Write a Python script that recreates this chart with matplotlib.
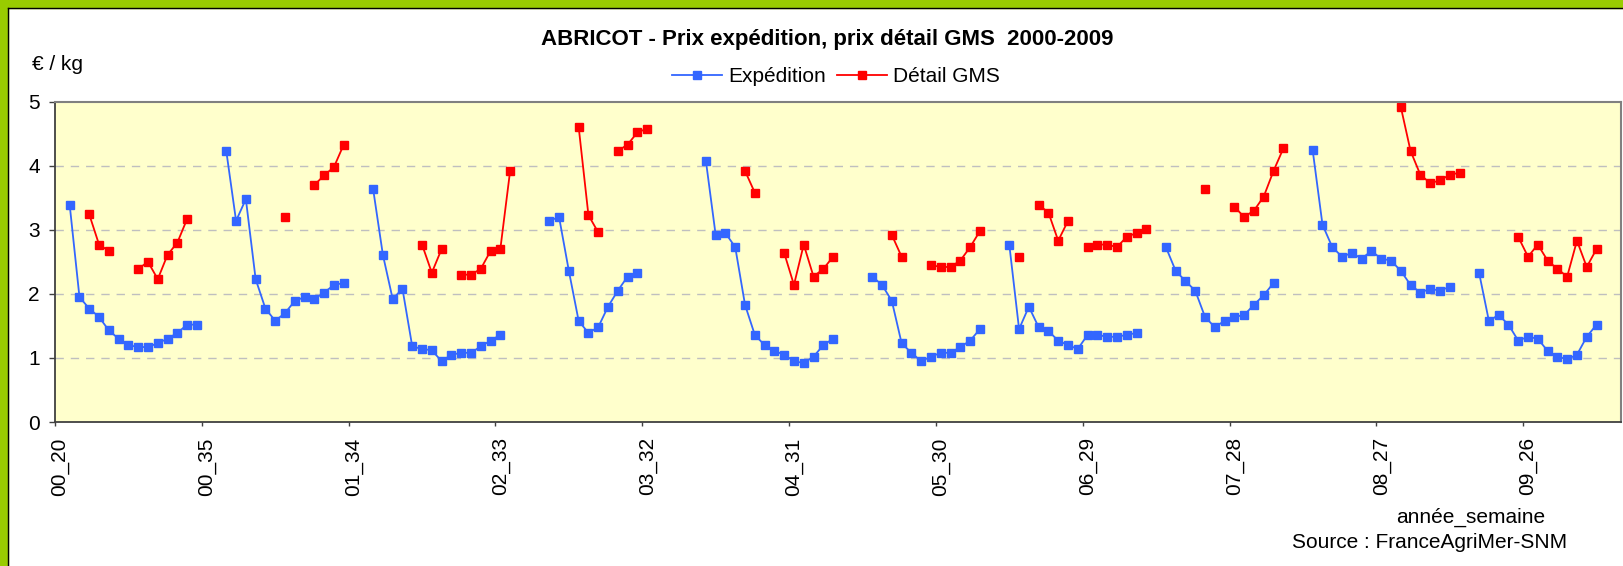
import numpy as np
import matplotlib
matplotlib.use("Agg")
import matplotlib.pyplot as plt
from matplotlib.patches import Rectangle
from matplotlib.lines import Line2D

plt.rcParams['font.family'] = ['Liberation Sans', 'DejaVu Sans']

nan = np.nan
years = ['00', '01', '02', '03', '04', '05', '06', '07', '08', '09']
weeks = list(range(20, 36))  # semaines 20 a 35 chaque annee

# prix expedition, une liste par annee (semaines 20..35)
expedition = [
    [nan, 3.39, 1.95, 1.77, 1.64, 1.43, 1.30, 1.20, 1.17, 1.17, 1.23, 1.30, 1.39, 1.52, 1.52, nan],
    [nan, 4.23, 3.14, 3.48, 2.23, 1.77, 1.58, 1.70, 1.89, 1.95, 1.92, 2.02, 2.14, 2.17, nan, nan],
    [3.64, 2.61, 1.92, 2.08, 1.18, 1.14, 1.12, 0.95, 1.05, 1.08, 1.08, 1.18, 1.27, 1.36, nan, nan],
    [nan, nan, 3.14, 3.20, 2.36, 1.58, 1.39, 1.48, 1.80, 2.05, 2.27, 2.33, nan, nan, nan, nan],
    [nan, nan, 4.08, 2.92, 2.95, 2.73, 1.83, 1.36, 1.20, 1.11, 1.05, 0.95, 0.92, 1.02, 1.20, 1.30],
    [nan, nan, nan, 2.27, 2.14, 1.89, 1.23, 1.08, 0.95, 1.02, 1.08, 1.08, 1.17, 1.27, 1.45, nan],
    [nan, 2.77, 1.45, 1.80, 1.48, 1.42, 1.27, 1.20, 1.14, 1.36, 1.36, 1.33, 1.33, 1.36, 1.39, nan],
    [nan, 2.73, 2.36, 2.20, 2.05, 1.64, 1.48, 1.58, 1.64, 1.67, 1.83, 1.98, 2.17, nan, nan, nan],
    [4.24, 3.08, 2.73, 2.58, 2.64, 2.55, 2.67, 2.55, 2.52, 2.36, 2.14, 2.02, 2.08, 2.05, 2.11, nan],
    [nan, 2.33, 1.58, 1.67, 1.52, 1.27, 1.33, 1.30, 1.11, 1.02, 0.98, 1.05, 1.33, 1.52, nan, nan],
]

# prix detail GMS
detail_gms = [
    [nan, nan, nan, 3.24, 2.77, 2.67, nan, nan, 2.39, 2.50, 2.23, 2.61, 2.80, 3.17, nan, nan],
    [nan, nan, nan, nan, nan, nan, nan, 3.20, nan, nan, 3.70, 3.85, 3.98, 4.33, nan, nan],
    [nan, nan, nan, nan, nan, 2.77, 2.33, 2.70, nan, 2.30, 2.30, 2.39, 2.67, 2.70, 3.92, nan],
    [nan, nan, nan, nan, nan, 4.61, 3.23, 2.96, nan, 4.23, 4.33, 4.52, 4.58, nan, nan, nan],
    [nan, nan, nan, nan, nan, nan, 3.92, 3.58, nan, nan, 2.64, 2.14, 2.77, 2.27, 2.39, 2.58],
    [nan, nan, nan, nan, nan, 2.92, 2.58, nan, nan, 2.45, 2.42, 2.42, 2.52, 2.73, 2.98, nan],
    [nan, nan, 2.58, nan, 3.39, 3.27, 2.83, 3.14, nan, 2.73, 2.77, 2.77, 2.73, 2.89, 2.95, 3.02],
    [nan, nan, nan, nan, nan, 3.64, nan, nan, 3.36, 3.20, 3.30, 3.52, 3.92, 4.27, nan, nan],
    [nan, nan, nan, nan, nan, nan, nan, nan, nan, 4.92, 4.23, 3.86, 3.73, 3.77, 3.86, 3.89],
    [nan, nan, nan, nan, nan, 2.89, 2.58, 2.77, 2.52, 2.39, 2.27, 2.83, 2.42, 2.70, nan, nan],
]

labels = [f'{y}_{w}' for y in years for w in weeks]
exp_all = np.concatenate(expedition)
det_all = np.concatenate(detail_gms)
x = np.arange(len(labels))

W, H = 1624, 566
fig = plt.figure(figsize=(W / 100, H / 100), dpi=100)
fig.patch.set_facecolor('white')

# cadre vert style Excel
fig.patches.append(Rectangle((0, 0), 7.5 / W, 1, transform=fig.transFigure, color='#99CC00', zorder=0))
fig.patches.append(Rectangle((0, 1 - 7.5 / H), 1, 7.5 / H, transform=fig.transFigure, color='#99CC00', zorder=0))
fig.lines.append(Line2D([8.3 / W, 8.3 / W], [0, 1 - 7.5 / H], transform=fig.transFigure, color='black', lw=1))
fig.lines.append(Line2D([8.3 / W, 1], [1 - 8.3 / H, 1 - 8.3 / H], transform=fig.transFigure, color='black', lw=1))

ax = fig.add_axes([55 / W, (H - 422) / H, 1566 / W, 320.3 / H])
ax.set_facecolor('#FFFFCC')

ax.plot(x, exp_all, color='#3366FF', lw=1.3, marker='s', markersize=5.5, label='Expédition')
ax.plot(x, det_all, color='#FF0000', lw=1.3, marker='s', markersize=5.5, label='Détail GMS')

ax.set_xlim(-0.5, len(labels) - 0.5)
ax.set_ylim(0, 5)
ax.set_yticks(range(0, 6))
ax.tick_params(axis='y', labelsize=15, length=4, width=1, pad=7, color='#404040')

# traits aux limites de categories, etiquettes au centre
ax.set_xticks(np.arange(0, len(labels), 15) - 0.5)
ax.set_xticklabels([])
ax.tick_params(axis='x', which='major', length=3, width=1, color='#404040')
ax.set_xticks(np.arange(0, len(labels), 15), minor=True)
ax.set_xticklabels(labels[::15], minor=True, rotation=90, fontsize=15)
ax.tick_params(axis='x', which='minor', length=0, pad=11)

for y in range(1, 5):
    ax.axhline(y, color='#BFBFBF', lw=1, ls=(0, (6, 5)), zorder=0)

for s in ['left', 'bottom']:
    ax.spines[s].set_color('#404040')
    ax.spines[s].set_linewidth(1.3)
for s in ['top', 'right']:
    ax.spines[s].set_color('#808080')
    ax.spines[s].set_linewidth(1.5)

fig.text(827 / W, 1 - 40 / H, 'ABRICOT - Prix expédition, prix détail GMS  2000-2009',
         ha='center', va='center', fontsize=16, fontweight='bold')
fig.text(32 / W, 1 - 64 / H, '€ / kg', ha='left', va='center', fontsize=15)
fig.text(1545 / W, 1 - 517 / H, 'année_semaine', ha='right', va='center', fontsize=15)
fig.text(1567 / W, 1 - 542 / H, 'Source : FranceAgriMer-SNM', ha='right', va='center', fontsize=15)

ax.legend(loc='center', bbox_to_anchor=(836 / W, 1 - 77 / H), bbox_transform=fig.transFigure,
          ncol=2, frameon=False, fontsize=15, handlelength=2.4, handletextpad=0.3,
          columnspacing=0.5, borderpad=0)

fig.savefig('out.png', dpi=100)
